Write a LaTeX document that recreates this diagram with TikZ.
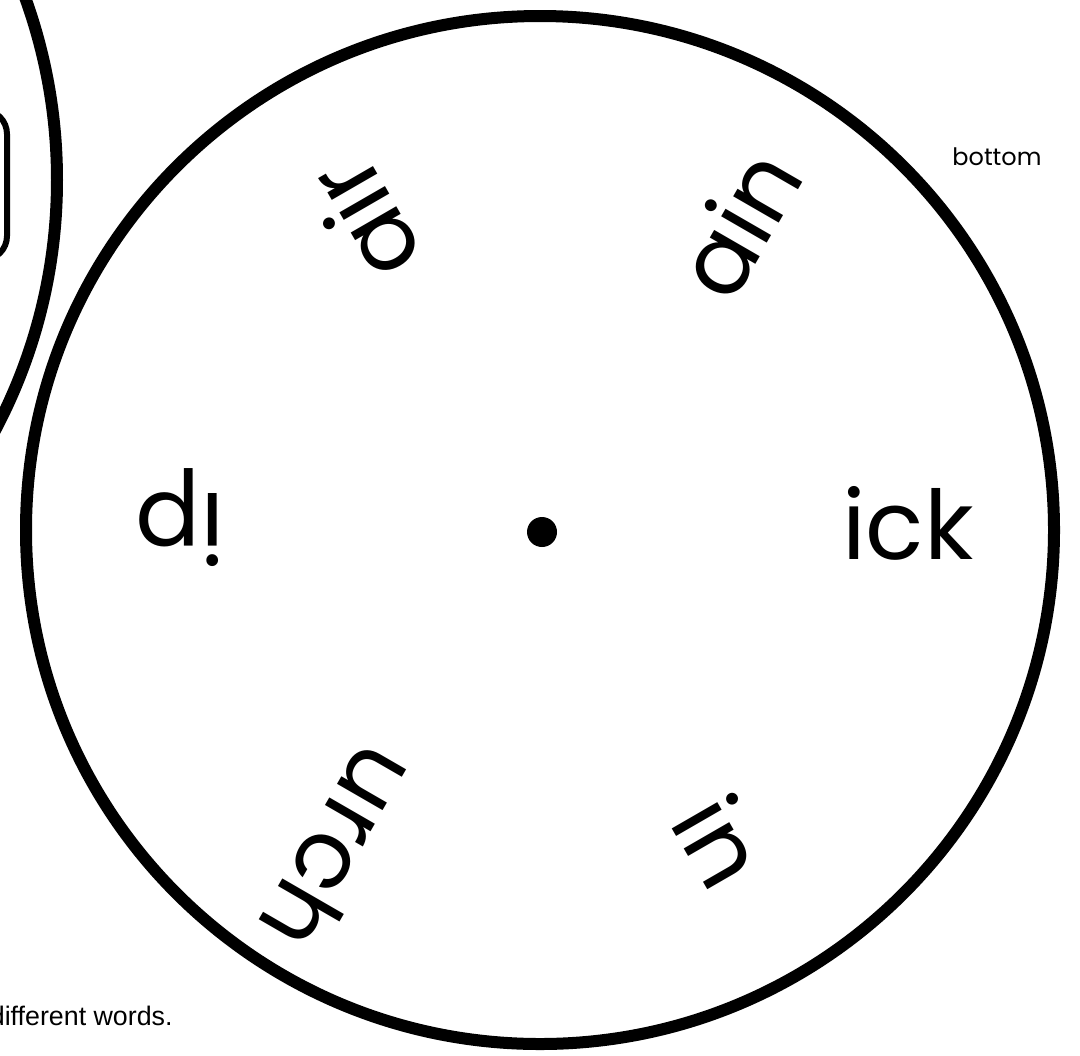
\documentclass[tikz,border=0pt]{standalone}
\usepackage{fontspec}
\newfontfamily\wheelfont{Poppins}
\newfontfamily\notefont{Liberation Sans}
\begin{document}
\begin{tikzpicture}[x=0.5pt,y=-0.5pt,
  wheelline/.style={line width=6pt,black},
  word/.style={font=\wheelfont\fontsize{48pt}{56pt}\selectfont,anchor=center,
    text height=26.3pt,text depth=0pt,inner sep=0pt},
  smalltext/.style={font=\wheelfont\fontsize{12pt}{14pt}\selectfont,inner sep=0pt}]
\useasboundingbox (0,0) rectangle (1080,1055);
\clip (0,0) rectangle (1080,1055);
\fill[white] (0,0) rectangle (1080,1055);
% left wheel (partly visible)
\draw[wheelline] (-479,180) circle (536);
\draw[line width=3pt,rounded corners=12] (-60,110) rectangle (7,260);
% main wheel
\draw[wheelline] (540,530) circle (514);
\fill (542,532) circle (15);
% words
\node[word,rotate=0]   (ick)  at (908,533) {ick};
\node[word,rotate=60]  (ain)  at (746,228) {ain};
\node[word,rotate=120] (air)  at (372,216) {air};
\node[word,rotate=180] (ip)   at (180,520) {ip};
\node[word,rotate=240] (urch) at (333,845) {urch};
\node[word,rotate=300] (in)   at (713,846) {in};
% notes
\node[smalltext,anchor=base west] (bottom) at (952,165) {bottom};
\node[font=\notefont\fontsize{13.4pt}{16pt}\selectfont,inner sep=0pt,anchor=base east] (diff) at (173,1025) {different words.};
\end{tikzpicture}
\end{document}
